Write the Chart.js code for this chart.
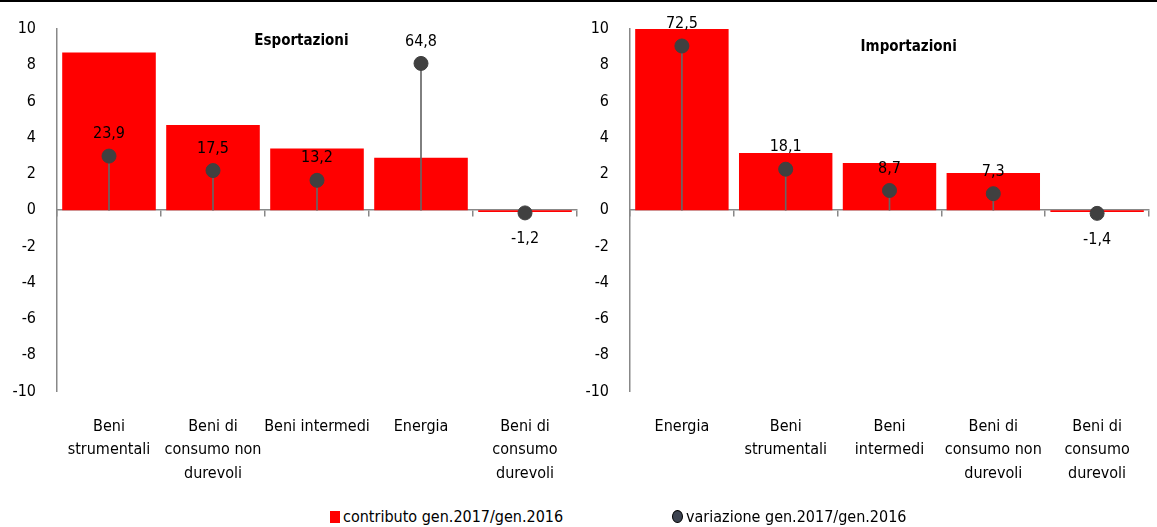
<!DOCTYPE html>
<html lang="it">
<head>
<meta charset="UTF-8">
<title>Esportazioni e importazioni</title>
<script src="https://cdn.jsdelivr.net/npm/chart.js"></script>
<style>
  body { margin: 0; width: 1157px; height: 527px; background: #fff; position: relative; overflow: hidden;
         font-family: "Liberation Sans Narrow", "Arial Narrow", "DejaVu Sans Condensed", sans-serif; }
  .topline { position: absolute; left: 0; top: 0; width: 1157px; height: 2px; background: #000; }
  .box { position: absolute; top: 0; height: 501px; }
  #leftBox { left: 0; width: 585px; }
  #rightBox { left: 580px; width: 577px; }
  .leg { position: absolute; top: 507px; font-size: 16px; color: #000; white-space: nowrap; }
  .sq { display: inline-block; width: 10px; height: 12px; background: #ff0000; margin-right: 3px; vertical-align: -1px; }
  .dot { display: inline-block; width: 9px; height: 11px; border-radius: 50%; background: #3d4350; border: 1px solid #000; margin-right: 3px; vertical-align: -1px; }
</style>
</head>
<body>
<div class="topline"></div>
<div class="box" id="leftBox"><canvas id="expChart"></canvas></div>
<div class="box" id="rightBox"><canvas id="impChart"></canvas></div>
<div class="leg" style="left:330px"><span class="sq"></span>contributo gen.2017/gen.2016</div>
<div class="leg" style="left:672px"><span class="dot"></span>variazione gen.2017/gen.2016</div>

<script>
// Esportazioni
const expCategories = [['Beni', 'strumentali'], ['Beni di', 'consumo non', 'durevoli'], ['Beni intermedi'], ['Energia'], ['Beni di', 'consumo', 'durevoli']];
const expContributo = [8.7, 4.7, 3.4, 2.9, -0.1];
const expVariazione = [23.9, 17.5, 13.2, 64.8, -1.2];

// Importazioni
const impCategories = [['Energia'], ['Beni', 'strumentali'], ['Beni', 'intermedi'], ['Beni di', 'consumo non', 'durevoli'], ['Beni di', 'consumo', 'durevoli']];
const impContributo = [10, 3.15, 2.6, 2.05, -0.1];
const impVariazione = [72.5, 18.1, 8.7, 7.3, -1.4];

const yTicks = [-10, -8, -6, -4, -2, 0, 2, 4, 6, 8, 10];

const FONT = '"Liberation Sans Narrow", "Arial Narrow", "DejaVu Sans Condensed", sans-serif';
Chart.defaults.font.family = FONT;
Chart.defaults.font.size = 16;
Chart.defaults.color = '#000';

const fmt = v => v.toFixed(1).replace('.', ',');

// value labels above (or below) the points + panel title
const labelPlugin = {
  id: 'labels',
  afterDatasetsDraw(chart, args, opts) {
    const ctx = chart.ctx;
    const meta = chart.getDatasetMeta(0);
    const vals = chart.data.datasets[0].data;
    ctx.save();
    ctx.font = '16px ' + FONT;
    ctx.fillStyle = '#000';
    ctx.textAlign = 'center';
    ctx.textBaseline = 'middle';
    meta.data.forEach((pt, i) => {
      const v = vals[i];
      ctx.fillText(fmt(v), pt.x, v < 0 ? pt.y + 26 : pt.y - 22);
    });
    const a = chart.chartArea;
    ctx.font = 'bold 15px ' + FONT;
    ctx.fillText(opts.title, a.left + (a.right - a.left) * opts.tx, a.top + opts.ty);
    ctx.restore();
  }
};

function makeChart(id, cats, contrib, varia, title, yWidth, tx, ty) {
  return new Chart(document.getElementById(id), {
    type: 'bar',
    data: {
      labels: cats,
      datasets: [
        {
          type: 'line', label: 'variazione gen.2017/gen.2016', data: varia, yAxisID: 'y2', order: 0,
          showLine: false, pointRadius: 7, pointHoverRadius: 7,
          pointBackgroundColor: '#404040', pointBorderColor: '#404040'
        },
        {
          label: 'drop', data: varia.map(v => [0, v]), yAxisID: 'y2', order: 1,
          backgroundColor: '#666', barThickness: 1, grouped: false
        },
        {
          label: 'contributo gen.2017/gen.2016', data: contrib, yAxisID: 'y', order: 2,
          backgroundColor: '#ff0000', borderWidth: 0,
          categoryPercentage: 1.0, barPercentage: 0.9, grouped: false
        }
      ]
    },
    options: {
      responsive: true,
      maintainAspectRatio: false,
      animation: false,
      layout: { padding: { top: 29, right: 4, left: 0, bottom: 0 } },
      plugins: {
        legend: { display: false },
        tooltip: { enabled: false },
        labels: { title: title, tx: tx, ty: ty }
      },
      scales: {
        x: {
          type: 'category',
          position: { y: 0 },
          offset: true,
          ticks: { display: false },
          grid: { display: true, drawOnChartArea: false, drawTicks: true, tickLength: 6, offset: true, color: '#888', lineWidth: 1.5 },
          border: { display: true, color: '#888', width: 1.5 }
        },
        xl: {
          type: 'category',
          position: 'bottom',
          labels: cats,
          offset: true,
          grid: { display: false },
          border: { display: false },
          ticks: { maxRotation: 0, autoSkip: false, padding: 16, font: { size: 16, lineHeight: 1.45 } }
        },
        y: {
          min: -10, max: 10,
          afterBuildTicks: s => { s.ticks = yTicks.map(v => ({ value: v })); },
          afterFit: s => { s.width = yWidth; },
          ticks: { padding: 13, font: { size: 16 } },
          grid: { display: false },
          border: { display: true, color: '#888', width: 1.5 }
        },
        y2: { display: false, min: -80, max: 80 }
      }
    },
    plugins: [labelPlugin]
  });
}

makeChart('expChart', expCategories, expContributo, expVariazione, 'Esportazioni', 57, 0.47, 12);
makeChart('impChart', impCategories, impContributo, impVariazione, 'Importazioni', 50, 0.537, 18);
</script>
</body>
</html>
